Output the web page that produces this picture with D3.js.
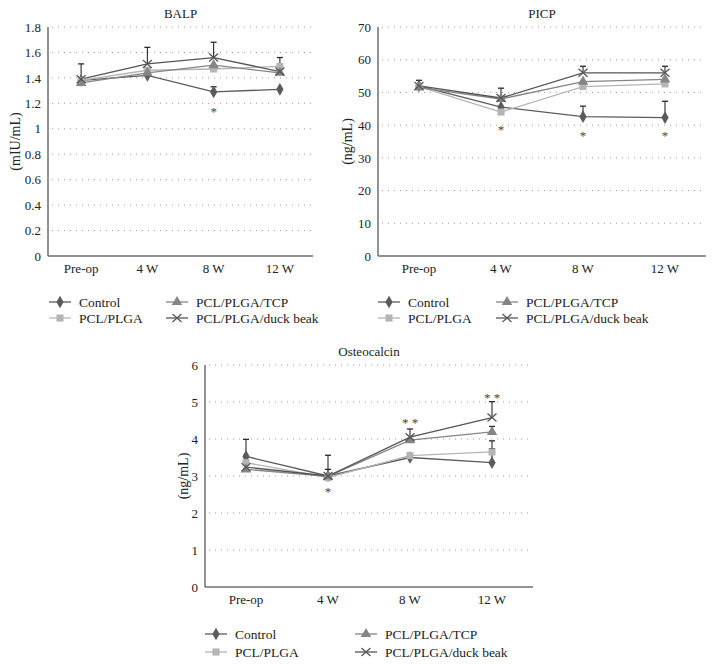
<!DOCTYPE html>
<html>
<head>
<meta charset="utf-8">
<script src="https://cdn.jsdelivr.net/npm/d3@7"></script>
<style>
  body { margin: 0; background: #fff; }
  svg { display: block; }
</style>
</head>
<body>
<svg id="chart" width="716" height="664"></svg>
<script>
// ---- data ----
var timePoints = ["Pre-op", "4 W", "8 W", "12 W"];
var groups = ["Control", "PCL/PLGA", "PCL/PLGA/TCP", "PCL/PLGA/duck beak"];

// BALP (mIU/mL)
var balpControl = [1.38, 1.42, 1.29, 1.31];
var balpPlga    = [1.38, 1.46, 1.47, 1.49];
var balpTcp     = [1.36, 1.44, 1.50, 1.44];
var balpDuck    = [1.39, 1.51, 1.56, 1.45];
var balpErrControl = [0.13, 0, 0.04, 0];
var balpErrPlga    = [0, 0, 0, 0];
var balpErrTcp     = [0, 0, 0, 0];
var balpErrDuck    = [0, 0.13, 0.12, 0.11];
var balpStars = [null, null, "*", null];
var balpStarY = [0, 0, 1.16, 0];

// PICP (ng/mL)
var picpControl = [52.0, 45.5, 42.6, 42.3];
var picpPlga    = [51.8, 44.0, 51.8, 52.6];
var picpTcp     = [51.5, 48.0, 53.3, 54.0];
var picpDuck    = [52.0, 48.3, 56.0, 56.0];
var picpErrControl = [0, 0, 3.2, 5.0];
var picpErrPlga    = [0, 0, 0, 0];
var picpErrTcp     = [0, 0, 0, 0];
var picpErrDuck    = [1.7, 3.0, 2.0, 2.0];
var picpStars = [null, "*", "*", "*"];
var picpStarY = [0, 39.6, 37.9, 37.9];

// Osteocalcin (ng/mL)
var osteoControl = [3.53, 3.0, 3.50, 3.36];
var osteoPlga    = [3.36, 2.96, 3.55, 3.65];
var osteoTcp     = [3.18, 2.99, 3.97, 4.19];
var osteoDuck    = [3.24, 3.0, 4.05, 4.58];
var osteoErrControl = [0.46, 0.18, 0, 0.38];
var osteoErrPlga    = [0, 0, 0, 0.3];
var osteoErrTcp     = [0, 0, 0, 0.15];
var osteoErrDuck    = [0, 0.56, 0.22, 0.43];
var osteoStars = [null, "*", "* *", "* *"];
var osteoStarY = [0, 2.68, 4.54, 5.2];

// ---- styles ----
var FONT = "'Liberation Serif', 'Times New Roman', serif";
var seriesStyle = [
  { color: "#5b5b5b", shape: "diamond" },
  { color: "#b4b4b4", shape: "square" },
  { color: "#858585", shape: "triangle" },
  { color: "#555555", shape: "x" }
];

var svg = d3.select("#chart");

function styleText(sel, size) {
  sel.style("font-family", FONT)
    .style("font-size", size + "px")
    .style("font-weight", "normal")
    .attr("fill", "#222");
  return sel;
}

function markerPath(shape) {
  if (shape === "diamond") return d3.symbol().type(d3.symbolDiamond).size(46)();
  if (shape === "square") return d3.symbol().type(d3.symbolSquare).size(50)();
  if (shape === "triangle") return d3.symbol().type(d3.symbolTriangle).size(48)();
  return "M-4.5,-4L4.5,4M-4.5,4L4.5,-4";
}

function drawMarker(g, shape, color, x, y) {
  var m = g.append("path")
    .attr("d", markerPath(shape))
    .attr("transform", "translate(" + x + "," + y + ")");
  if (shape === "x") {
    m.attr("fill", "none").attr("stroke", color).attr("stroke-width", 1.3);
  } else {
    m.attr("fill", color).attr("stroke", "none");
  }
}

function drawPanel(p) {
  var g = svg.append("g");

  var x = d3.scaleBand().domain(timePoints).range([p.left, p.right]);
  var y = d3.scaleLinear().domain([0, p.max]).range([p.bottom, p.top]);
  var ticks = d3.range(0, p.max + p.step / 2, p.step);

  // dotted grid
  g.selectAll(".grid")
    .data(ticks.slice(1))
    .enter().append("line")
    .attr("x1", p.left + 4).attr("x2", p.right)
    .attr("y1", function (d) { return y(d); })
    .attr("y2", function (d) { return y(d); })
    .attr("stroke", "#9a9a9a")
    .attr("stroke-width", 1)
    .attr("stroke-dasharray", "1,5");

  // y axis, tick labels only
  var yAxis = g.append("g")
    .attr("transform", "translate(" + p.left + ",0)")
    .call(d3.axisLeft(y).tickValues(ticks).tickSize(0).tickPadding(7)
      .tickFormat(function (d) { return d3.format("~g")(+d.toFixed(2)); }));
  yAxis.select(".domain").remove();
  styleText(yAxis.selectAll("text"), 13);

  var xAxis = g.append("g")
    .attr("transform", "translate(0," + p.bottom + ")")
    .call(d3.axisBottom(x).tickSize(0).tickPadding(8));
  xAxis.select(".domain").remove();
  styleText(xAxis.selectAll("text"), 13);

  // axis lines
  g.append("line").attr("x1", p.left).attr("x2", p.left)
    .attr("y1", p.top).attr("y2", p.bottom)
    .attr("stroke", "#6e6e6e").attr("stroke-width", 1.5);
  g.append("line").attr("x1", p.left).attr("x2", p.right)
    .attr("y1", p.bottom).attr("y2", p.bottom)
    .attr("stroke", "#6e6e6e").attr("stroke-width", 1.5);

  // title and y label
  styleText(g.append("text").attr("x", (p.left + p.right) / 2).attr("y", p.top - 9)
    .attr("text-anchor", "middle").text(p.title), 13);
  styleText(g.append("text")
    .attr("transform", "translate(" + p.labelX + "," + (p.top + p.bottom) / 2 + ") rotate(-90)")
    .attr("text-anchor", "middle").attr("dy", "0.35em")
    .text(p.unit), 14);

  var cx = function (i) { return x(timePoints[i]) + x.bandwidth() / 2; };
  var line = d3.line()
    .x(function (d, i) { return cx(i); })
    .y(function (d) { return y(d); });

  // lines
  p.series.forEach(function (vals, s) {
    g.append("path").datum(vals)
      .attr("d", line)
      .attr("fill", "none")
      .attr("stroke", seriesStyle[s].color)
      .attr("stroke-width", 1.3);
  });

  // error bars (upper only)
  p.series.forEach(function (vals, s) {
    vals.forEach(function (v, i) {
      var e = p.errors[s][i];
      if (!e) return;
      g.append("line").attr("x1", cx(i)).attr("x2", cx(i))
        .attr("y1", y(v)).attr("y2", y(v + e))
        .attr("stroke", "#2a2a2a").attr("stroke-width", 1.1);
      g.append("line").attr("x1", cx(i) - 3).attr("x2", cx(i) + 3)
        .attr("y1", y(v + e)).attr("y2", y(v + e))
        .attr("stroke", "#2a2a2a").attr("stroke-width", 1.3);
    });
  });

  // markers
  p.series.forEach(function (vals, s) {
    vals.forEach(function (v, i) {
      drawMarker(g, seriesStyle[s].shape, seriesStyle[s].color, cx(i), y(v));
    });
  });

  // significance stars
  p.stars.forEach(function (st, i) {
    if (!st) return;
    styleText(g.append("text").attr("x", cx(i)).attr("y", y(p.starY[i]))
      .attr("text-anchor", "middle").attr("dy", "0.6em")
      .text(st), 13).attr("fill", "#444");
  });

  // legend
  var lg = svg.append("g");
  groups.forEach(function (name, s) {
    var col = s === 0 || s === 1 ? 0 : 1;
    var row = s === 0 || s === 2 ? 0 : 1;
    var lx = p.legendX[col];
    var ly = p.legendY + row * p.legendRow;
    lg.append("line").attr("x1", lx).attr("x2", lx + 22)
      .attr("y1", ly).attr("y2", ly)
      .attr("stroke", seriesStyle[s].color).attr("stroke-width", 1.3);
    drawMarker(lg, seriesStyle[s].shape, seriesStyle[s].color, lx + 11, ly);
    styleText(lg.append("text").attr("x", lx + 30).attr("y", ly).attr("dy", "0.35em")
      .text(name), 13.5);
  });
}

drawPanel({
  title: "BALP", unit: "(mIU/mL)",
  left: 48, right: 313, top: 27, bottom: 256, max: 1.8, step: 0.2, labelX: 15,
  series: [balpControl, balpPlga, balpTcp, balpDuck],
  errors: [balpErrControl, balpErrPlga, balpErrTcp, balpErrDuck],
  stars: balpStars, starY: balpStarY,
  legendX: [49, 166], legendY: 302, legendRow: 16
});

drawPanel({
  title: "PICP", unit: "(ng/mL)",
  left: 378, right: 706, top: 27, bottom: 256, max: 70, step: 10, labelX: 347,
  series: [picpControl, picpPlga, picpTcp, picpDuck],
  errors: [picpErrControl, picpErrPlga, picpErrTcp, picpErrDuck],
  stars: picpStars, starY: picpStarY,
  legendX: [378, 496], legendY: 302, legendRow: 16
});

drawPanel({
  title: "Osteocalcin", unit: "(ng/mL)",
  left: 205, right: 533, top: 365, bottom: 587, max: 6, step: 1, labelX: 183,
  series: [osteoControl, osteoPlga, osteoTcp, osteoDuck],
  errors: [osteoErrControl, osteoErrPlga, osteoErrTcp, osteoErrDuck],
  stars: osteoStars, starY: osteoStarY,
  legendX: [205, 355], legendY: 634, legendRow: 18
});
</script>
</body>
</html>
